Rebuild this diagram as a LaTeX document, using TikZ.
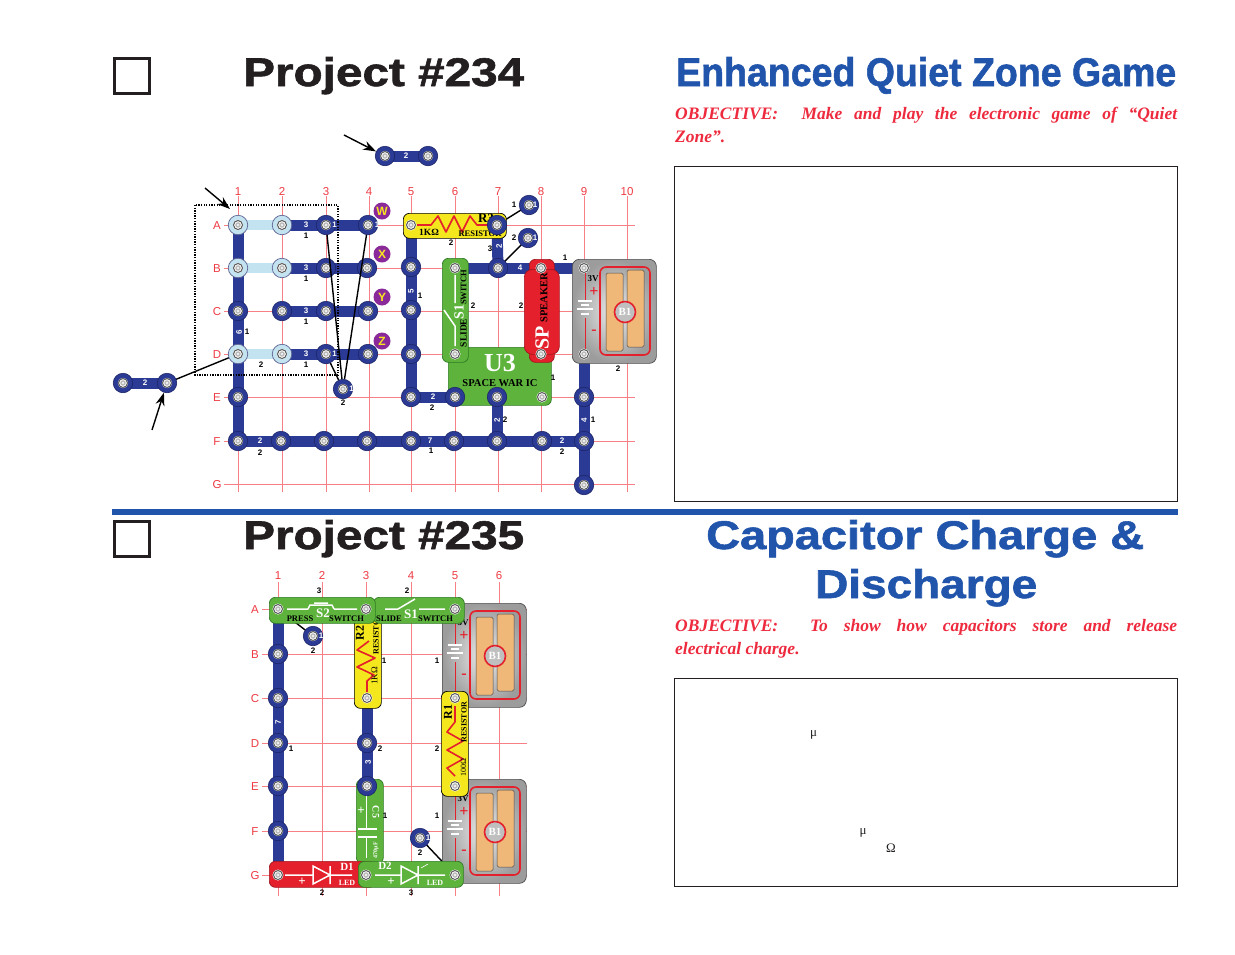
\documentclass[tikz,border=0pt]{standalone}
\usepackage{fontspec}
\usepackage{graphicx}
\setmainfont{Liberation Serif}
\newfontfamily\headfont{Liberation Sans}[BoldFeatures={FakeBold=1.4}]
\newfontfamily\numfont{Liberation Sans}
\usetikzlibrary{backgrounds,shadings,arrows.meta}
\definecolor{wireb}{HTML}{2B3A94}
\definecolor{wired}{HTML}{1C2568}
\definecolor{lightb}{HTML}{C4E3F1}
\definecolor{gridr}{HTML}{F77F86}
\definecolor{labr}{HTML}{EE3A43}
\definecolor{titleb}{HTML}{2155AB}
\definecolor{objr}{HTML}{EE2A3E}
\definecolor{compg}{HTML}{5DB33C}
\definecolor{compgd}{HTML}{2E7A22}
\definecolor{compy}{HTML}{F5E71E}
\definecolor{compr}{HTML}{E3202B}
\definecolor{cello}{HTML}{F0B878}
\definecolor{purp}{HTML}{8A2A9A}
\definecolor{yelw}{HTML}{F8E51F}
\definecolor{inkk}{HTML}{231F20}
\pgfdeclarelayer{gridlayer}
\pgfdeclarelayer{wirelayer}
\pgfsetlayers{gridlayer,wirelayer,main}
\tikzset{
 gridline/.style={draw=gridr,line width=0.9pt},
 rowlab/.style={text=labr,font=\numfont\fontsize{11.5}{11.5}\selectfont,inner sep=0pt,text height=8.2pt,text depth=0pt},
 wire/.style={draw=wireb,line width=11pt},
 wirelink/.style={draw=lightb,line width=10pt},
 thin line/.style={draw=black,line width=1.4pt},
 snapc/.style={circle,fill=wireb,draw=wired,line width=0.6pt,minimum size=19.5pt,inner sep=0pt},
 linkc/.style={circle,fill=lightb,draw=wired!70,line width=0.7pt,minimum size=19.5pt,inner sep=0pt},
 pinc/.style={circle,fill=white,draw=none,minimum size=11pt,inner sep=0pt},
 num/.style={font=\numfont\bfseries\fontsize{8}{8}\selectfont,text=black,inner sep=0pt},
 wnum/.style={font=\numfont\bfseries\fontsize{8}{8}\selectfont,text=white,inner sep=0pt},
 comp/.style={rounded corners=6pt,line width=0.7pt},
 gtext/.style={font=\bfseries\fontsize{7}{7}\selectfont,text=black,inner sep=0pt},
 wtext/.style={font=\bfseries\fontsize{14}{14}\selectfont,text=white,inner sep=0pt},
 wline/.style={draw=white,line width=1.5pt},
 zig/.style={draw=compr,line width=1.6pt,line join=round},
 arrowl/.style={draw=black,line width=1.4pt,-{Stealth[length=13pt,width=9pt]}},
 headt/.style={anchor=base west,inner sep=0pt,font=\headfont\bfseries\fontsize{40}{40}\selectfont},
 objt/.style={anchor=north west,inner sep=0pt,text width=502pt,align=justify,text=objr,font=\bfseries\itshape\fontsize{17.5}{23}\selectfont},
 checkb/.style={draw=inkk,line width=2.6pt,fill=white,minimum width=35pt,minimum height=35pt,inner sep=0pt},
 panel/.style={draw=inkk,line width=1.2pt,inner sep=0pt},
 symb/.style={font=\fontsize{13}{13}\selectfont,text=inkk,inner sep=0pt},
 badge/.style={circle,fill=purp,minimum size=17pt,inner sep=0pt,text=yelw,font=\numfont\bfseries\fontsize{12}{12}\selectfont},
 dotbox/.style={draw=black,line width=1.1pt,dash pattern=on 1.3pt off 1.3pt}
}
\newcounter{lb}
\newcommand\Num[3]{\stepcounter{lb}\node[num] (n\thelb) at (#1,#2) {#3};}
\newcommand\WNum[3]{\stepcounter{lb}\node[wnum] (n\thelb) at (#1,#2) {#3};}
\newcommand\WNumR[3]{\stepcounter{lb}\node[wnum,rotate=90] (n\thelb) at (#1,#2) {#3};}
\newcommand\RingAt[2]{\fill[white] (#1,#2) circle (5.2);\draw[gray!70!black,line width=1pt] (#1,#2) circle (4.5);\fill[gray!55] (#1,#2) circle (2.8);\fill[gray!10] (#1,#2) circle (1.4);}
\newcommand\Snap[3]{\node[snapc] (#1) at (#2,#3) {};\RingAt{#2}{#3}}
\newcommand\LSnap[3]{\node[linkc] (#1) at (#2,#3) {};\RingAt{#2}{#3}}
\newcommand\Pin[3]{\node[pinc] (#1) at (#2,#3) {};\RingAt{#2}{#3}}
\newcommand\Wire[2]{\begin{pgfonlayer}{wirelayer}\draw[wire] (#1.center) -- (#2.center);\end{pgfonlayer}}
\newcommand\LinkW[2]{\begin{pgfonlayer}{wirelayer}\draw[wirelink] (#1.center) -- (#2.center);\end{pgfonlayer}}
\newcommand\ThinW[2]{\begin{pgfonlayer}{wirelayer}\draw[thin line] (#1.center) -- (#2.center);\end{pgfonlayer}}
% battery: #1 prefix name, #2 x (left), #3 y (top)
\newcommand\Batt[3]{%
 \begin{scope}[shift={(#2,#3)}]
 \node[anchor=north west,minimum width=84pt,minimum height=104pt,inner sep=0pt,rounded corners=7pt,draw=gray!60!black,line width=0.7pt,shading=radial,inner color=gray!15,outer color=gray!78] (#1) at (0,0) {};
 \draw[compr,line width=1.6pt,rounded corners=6pt] (28,8) rectangle (78,96);
 \fill[cello,draw=gray!60!black,line width=0.5pt,rounded corners=1.5pt] (34,14) rectangle (51,92);
 \fill[cello,draw=gray!60!black,line width=0.5pt,rounded corners=1.5pt] (55,11) rectangle (72,88);
 \node[circle,fill=gray!50,draw=compr,line width=1.6pt,minimum size=21pt,inner sep=0pt,text=white,font=\bfseries\fontsize{11}{11}\selectfont] (#1c) at (53,53) {B1};
 \draw[compr,line width=1pt] (13,10) -- (13,42) (13,59) -- (13,95);
 \draw[white,line width=1.2pt] (6,42) -- (20,42) (9,46) -- (17,46) (5,50) -- (21,50) (9,55) -- (17,55);
 \node[inner sep=0pt,text=compr,font=\bfseries\fontsize{16}{16}\selectfont] (#1p) at (22,33) {+};
 \node[inner sep=0pt,text=compr,font=\bfseries\fontsize{16}{16}\selectfont] (#1m) at (22,73) {-};
 \node[inner sep=0pt,font=\bfseries\fontsize{9}{9}\selectfont] (#1v) at (21,20) {3V};
 \end{scope}}
\begin{document}
\begin{tikzpicture}[x=1pt,y=-1pt]
\useasboundingbox (0,0) rectangle (1235,954);
\begin{pgfonlayer}{gridlayer}
\fill[white] (0,0) rectangle (1235,954);
\end{pgfonlayer}
% ---------- page furniture ----------
\node[checkb,anchor=north west] (chk1) at (113.3,57.3) {};
\node[checkb,anchor=north west] (chk2) at (113.3,520.3) {};
\node[headt,text=inkk] (title1) at (243,86) {\resizebox{281pt}{\height}{Project \#234}};
\node[headt,text=inkk] (title2) at (243,549) {\resizebox{281pt}{\height}{Project \#235}};
\node[headt,text=titleb] (head1) at (676,86) {\resizebox{500pt}{\height}{Enhanced Quiet Zone Game}};
\node[headt,text=titleb] (head2a) at (706,549) {\resizebox{438pt}{\height}{Capacitor Charge \&}};
\node[headt,text=titleb] (head2b) at (815,598) {\resizebox{222pt}{\height}{Discharge}};
\node[objt] (obj1) at (675,106.5) {OBJECTIVE:\ \ Make and play the electronic game of “Quiet\linebreak Zone”.};
\node[objt] (obj2) at (675,619) {OBJECTIVE:\ \ To show how capacitors store and release\linebreak electrical charge.};
\node[panel,anchor=north west,minimum width=503pt,minimum height=335pt] (panel1) at (674,166) {};
\node[panel,anchor=north west,minimum width=503pt,minimum height=208pt] (panel2) at (674,678) {};
\fill[titleb] (112,509) rectangle (1178,515);
\node[symb] (mu1) at (813.5,735) {μ};
\node[symb] (mu2) at (863,833) {μ};
\node[symb] (om1) at (891,848) {Ω};
% ---------- top grid ----------
\begin{pgfonlayer}{gridlayer}
\foreach \xx in {238,282,326,369,411,455,498,541,584,627} \draw[gridline] (\xx,196) -- (\xx,492);
\foreach \yy in {225,268,311,354,397,441,484} \draw[gridline] (224,\yy) -- (635,\yy);
\end{pgfonlayer}
\foreach \xx/\ll in {238/1,282/2,326/3,369/4,411/5,455/6,498/7,541/8,584/9,627/10}
  \node[rowlab] (tc\ll) at (\xx,191) {\ll};
\foreach \yy/\ll in {225/A,268/B,311/C,354/D,397/E,441/F,484/G}
  \node[rowlab] (tr\ll) at (217,\yy) {\ll};
% components, top
\node[anchor=north west,comp,fill=compy,draw=black,minimum width=103pt,minimum height=25pt,inner sep=0pt] (R3box) at (403,213) {};
\draw[zig] (417,225) -- (431,225) -- (438,216) -- (446,232) -- (454,216) -- (462,232) -- (470,216) -- (477,225) -- (490,225);
\node[font=\bfseries\fontsize{13}{13}\selectfont,inner sep=0pt] (R3t) at (486,218) {R3};
\node[gtext,font=\fontsize{9.5}{9.5}\selectfont\bfseries] (R3k) at (429,232.5) {1KΩ};
\node[gtext,font=\fontsize{8.5}{8.5}\selectfont\bfseries] (R3r) at (480,234) {RESISTOR};
\node[anchor=north west,comp,fill=compg,draw=compgd,minimum width=103pt,minimum height=58pt,inner sep=0pt] (U3box) at (448,347) {};
\node[inner sep=0pt,text=white,font=\bfseries\fontsize{26}{26}\selectfont] (U3t) at (500,363) {U3};
\node[gtext,font=\bfseries\fontsize{10.5}{10.5}\selectfont] (U3s) at (500,383.5) {SPACE WAR IC};
\node[anchor=north west,comp,fill=compg,draw=compgd,minimum width=26pt,minimum height=104pt,inner sep=0pt] (S1box) at (442,258) {};
\draw[wline] (455,275) -- (455,303) (455,346) -- (455,326) -- (444,310);
\node[wtext,rotate=90] (S1t) at (459,312) {S1};
\node[gtext,rotate=90,font=\bfseries\fontsize{9.5}{9.5}\selectfont] (S1a) at (463.5,333) {SLIDE};
\node[gtext,rotate=90,font=\bfseries\fontsize{8.5}{8.5}\selectfont] (S1b) at (463.5,287.5) {SWITCH};
\node[anchor=north west,comp,fill=compr,draw=compr!70!black,minimum width=25pt,minimum height=103pt,inner sep=0pt] (SPback) at (529,259) {};
\node[anchor=north west,comp,fill=compr,draw=compr!70!black,rounded corners=8pt,minimum width=35pt,minimum height=85pt,inner sep=0pt] (SPbox) at (524,269) {};
\node[rotate=90,inner sep=0pt,text=white,font=\bfseries\fontsize{20}{20}\selectfont] (SPt) at (542,338) {SP};
\node[rotate=90,gtext,font=\bfseries\fontsize{10.5}{10.5}\selectfont] (SPs) at (544,298) {SPEAKER};
\Batt{B1a}{572}{259}
% snaps, top
\LSnap{A1}{238}{225} \LSnap{A2}{282}{225} \Snap{A3}{326}{225} \Snap{A4}{368}{225}
\LSnap{B1}{238}{268} \LSnap{B2}{282}{268} \Snap{B3}{326}{268} \Snap{B4}{367}{268}
\Snap{C1}{238}{311} \Snap{C2}{282}{311} \Snap{C3}{326}{311} \Snap{C4}{368}{311}
\LSnap{D1}{238}{354} \LSnap{D2}{282}{354} \Snap{D3}{326}{354} \Snap{D4}{368}{354}
\Snap{E1}{238}{397}
\Snap{F1}{238}{441} \Snap{F2}{281}{441} \Snap{F3}{324}{441} \Snap{F4}{367}{441}
\Snap{F5}{411}{441} \Snap{F6}{454}{441} \Snap{F7}{497}{441} \Snap{F8}{542}{441} \Snap{F9}{584}{441}
\Pin{A5}{411}{225} \Snap{A7}{497}{225}
\Snap{B5}{411}{267} \Snap{C5}{411}{310} \Snap{D5}{411}{354} \Snap{E5}{411}{397}
\Snap{E6}{455}{397} \Snap{E7}{497}{397} \Pin{E8}{542}{397}
\Pin{B6}{455}{268} \Pin{D6}{455}{354} \Snap{B7}{498}{268} \Pin{B8}{541}{268} \Pin{D8}{541}{354}
\Pin{B9}{584}{268} \Pin{D9}{584}{354} \Snap{E9}{584}{397} \Snap{G9}{584}{485}
\Snap{J1}{529}{205} \Snap{J2}{528}{238}
\Snap{T1}{385}{156} \Snap{T2}{428}{156}
\Snap{L1}{123}{383} \Snap{L2}{167}{383}
\Snap{P}{343}{389}
% wires, top
\Wire{A1}{F1}\Wire{A2}{A4}\Wire{B2}{B4}\Wire{C2}{C4}\Wire{D2}{D4}\Wire{F1}{F9}
\Wire{A5}{E5}\Wire{E5}{E6}\Wire{E7}{F7}\Wire{A7}{B7}\Wire{B6}{B9}\Wire{D9}{G9}
\Wire{T1}{T2}\Wire{L1}{L2}
\LinkW{A1}{A2}\LinkW{B1}{B2}\LinkW{D1}{D2}
\ThinW{A7}{J1}\ThinW{B7}{J2}\ThinW{L2}{D1}
\draw[thin line] (P) -- (A3);
\draw[thin line] (P) -- (A4);
\draw[thin line] (P) -- (D3);
\draw[dotbox] (195,205) rectangle (338,375);
\coordinate (aT) at (344,135); \coordinate (aA) at (205,188); \coordinate (aL) at (152,430);
\draw[arrowl] (aT) -- (T1);
\draw[arrowl] (aA) -- (230,209);
\draw[arrowl] (aL) -- (L2);
\node[badge] (bW) at (382,211) {W};
\node[badge] (bX) at (382,254) {X};
\node[badge] (bY) at (382,297) {Y};
\node[badge] (bZ) at (382,341) {Z};
% numbers, top
\WNum{306}{225}{3}\Num{306}{236}{1}\WNum{306}{268}{3}\Num{306}{279}{1}
\WNum{306}{311}{3}\Num{306}{322}{1}\WNum{306}{354}{3}\Num{306}{365}{1}\Num{261}{365}{2}
\WNumR{239}{332}{6}\Num{247}{332}{1}
\WNum{334.5}{225}{1}\WNum{377}{225}{1}\WNum{334.5}{354}{1}\WNum{351.5}{389}{1}\Num{343}{403}{2}
\WNum{145}{383}{2}\WNum{406}{156}{2}
\WNum{260}{441}{2}\Num{260}{453}{2}\WNum{430}{441}{7}\Num{431}{451}{1}
\WNum{433}{397}{2}\Num{432}{408}{2}\WNumR{497}{420}{2}\Num{505}{420}{2}
\WNum{562}{441}{2}\Num{562}{452}{2}\WNumR{584}{420}{4}\Num{593}{420}{1}
\WNumR{411}{291}{5}\Num{420}{296}{1}\Num{451}{243}{2}\Num{490}{249}{3}\WNumR{499}{246}{2}
\Num{514}{205}{1}\Num{514}{238}{2}\WNum{535}{205}{1}\WNum{535}{238}{1}
\WNum{520}{268}{4}\Num{565}{258}{1}\Num{473}{306}{2}\Num{521}{306}{2}\Num{553}{378}{1}\Num{618}{369}{2}
% ---------- bottom grid ----------
\begin{pgfonlayer}{gridlayer}
\foreach \xx in {278,322,366,411,455,499} \draw[gridline] (\xx,582) -- (\xx,896);
\foreach \yy in {609,654,698,743,786,831,875} \draw[gridline] (262,\yy) -- (527,\yy);
\end{pgfonlayer}
\foreach \xx/\ll in {278/1,322/2,366/3,411/4,455/5,499/6}
  \node[rowlab] (bc\ll) at (\xx,575) {\ll};
\foreach \yy/\ll in {609/A,654/B,698/C,743/D,786/E,831/F,875/G}
  \node[rowlab] (br\ll) at (255,\yy) {\ll};
\Batt{B1b}{442}{603}
\Batt{B1c}{442}{779}
% capacitor
\node[anchor=north west,comp,fill=compg,draw=compgd,minimum width=27pt,minimum height=84pt,inner sep=0pt] (Cbox) at (356,779) {};
\draw[wline] (366.5,795) -- (366.5,829) (358,829) -- (377,829) (358,837) -- (377,837) (366.5,837) -- (366.5,858);
\node[inner sep=0pt,text=white,font=\bfseries\fontsize{13}{13}\selectfont] (Cplus) at (361,811) {+};
\node[inner sep=0pt,text=white,rotate=-90,font=\bfseries\fontsize{10}{10}\selectfont] (Ct) at (376,812) {C5};
\node[inner sep=0pt,text=white,rotate=90,font=\bfseries\fontsize{6}{6}\selectfont] (Cv) at (376,850) {470μF};
% R2
\node[anchor=north west,comp,fill=compy,draw=black,minimum width=27pt,minimum height=90pt,inner sep=0pt] (R2box) at (354,618) {};
\draw[zig] (369,641) -- (357,650) -- (375,658) -- (357,667) -- (374,675) -- (367,681) -- (367,692);
\node[rotate=90,font=\bfseries\fontsize{12}{12}\selectfont,inner sep=0pt] (R2t) at (360,633) {R2};
\node[rotate=90,gtext,font=\bfseries\fontsize{8}{8}\selectfont] (R2r) at (376,634) {RESISTOR};
\node[rotate=90,gtext,font=\fontsize{9}{9}\selectfont] (R2k) at (374.5,676) {1KΩ};
% R1
\node[anchor=north west,comp,fill=compy,draw=black,minimum width=27pt,minimum height=105pt,inner sep=0pt] (R1box) at (441,691) {};
\draw[zig] (455,706) -- (455,722) -- (447,732) -- (463,741) -- (447,750) -- (463,759) -- (447,768) -- (455,776);
\node[rotate=90,font=\bfseries\fontsize{12}{12}\selectfont,inner sep=0pt] (R1t) at (448,712) {R1};
\node[rotate=90,gtext,font=\bfseries\fontsize{8}{8}\selectfont] (R1r) at (464,722) {RESISTOR};
\node[rotate=90,gtext,font=\fontsize{8}{8}\selectfont] (R1k) at (463.5,768) {100Ω};
% S1, S2
\node[anchor=north west,comp,fill=compg,draw=compgd,minimum width=91pt,minimum height=26pt,inner sep=0pt] (S1bbox) at (373,597) {};
\draw[wline] (385,609) -- (398,609) -- (415,599) (419,609) -- (445,609);
\node[wtext,font=\bfseries\fontsize{13}{13}\selectfont] (S1bt) at (411,614) {S1};
\node[gtext,font=\bfseries\fontsize{8.5}{8.5}\selectfont] (S1bs) at (389,619) {SLIDE};
\node[gtext,font=\bfseries\fontsize{8.5}{8.5}\selectfont] (S1bw) at (435.5,619) {SWITCH};
\node[anchor=north west,comp,fill=compg,draw=compgd,minimum width=106pt,minimum height=26pt,inner sep=0pt] (S2box) at (269,597) {};
\draw[wline] (287,609) -- (308,609) (308,609) -- (310,605) -- (332,605) -- (334,609) (334,609) -- (357,609) (314,603) -- (328,603);
\node[wtext,font=\bfseries\fontsize{13}{13}\selectfont] (S2t) at (323,613) {S2};
\node[gtext,font=\bfseries\fontsize{8.5}{8.5}\selectfont] (S2p) at (300,619) {PRESS};
\node[gtext,font=\bfseries\fontsize{8.5}{8.5}\selectfont] (S2w) at (346.5,619) {SWITCH};
% D1, D2
\node[anchor=north west,comp,fill=compr,draw=compr!70!black,minimum width=106pt,minimum height=26pt,inner sep=0pt] (D1box) at (269,861) {};
\draw[wline] (285,875) -- (313,875) (313,866) -- (313,884) -- (330,875) -- cycle (330,866) -- (330,884) (330,875) -- (352,875);
\node[inner sep=0pt,text=white,font=\bfseries\fontsize{13}{13}\selectfont] (D1p) at (302,882) {+};
\node[inner sep=0pt,text=white,font=\bfseries\fontsize{11}{11}\selectfont] (D1t) at (347,867) {D1};
\node[inner sep=0pt,text=white,font=\bfseries\fontsize{8}{8}\selectfont] (D1l) at (347,883) {LED};
\node[anchor=north west,comp,fill=compg,draw=compgd,minimum width=105pt,minimum height=26pt,inner sep=0pt] (D2box) at (358,861) {};
\draw[wline] (375,875) -- (401,875) (401,866) -- (401,884) -- (418,875) -- cycle (418,866) -- (418,884) (418,875) -- (445,875);
\draw[draw=white,line width=0.6pt] (421,868) -- (428,864);
\node[inner sep=0pt,text=white,font=\bfseries\fontsize{13}{13}\selectfont] (D2p) at (391,882) {+};
\node[inner sep=0pt,text=white,font=\bfseries\fontsize{11}{11}\selectfont] (D2t) at (385,866) {D2};
\node[inner sep=0pt,text=white,font=\bfseries\fontsize{8}{8}\selectfont] (D2l) at (435,883) {LED};
% snaps, bottom
\Pin{a1}{278}{609}\Pin{a3}{366}{609}\Pin{a5}{455}{609}
\Snap{b1}{278}{654}\Snap{c1}{278}{698}\Snap{d1}{278}{743}\Snap{e1}{278}{786}\Snap{f1}{278}{831}
\Pin{g1}{278}{875}\Pin{g3}{366}{875}\Pin{g5}{455}{875}
\Pin{c3}{367}{698}\Snap{d3}{367}{743}\Snap{e3}{367}{786}
\Pin{c5}{455}{698}\Pin{e5}{455}{786}
\Snap{sa}{313}{636}\Snap{sb}{420}{838}
\Wire{a1}{g1}\Wire{c3}{e3}
\ThinW{sa}{a1}\ThinW{sb}{g5}
% numbers, bottom
\Num{319}{591}{3}\Num{407}{591}{2}\Num{313}{651}{2}\WNum{321}{636}{1}\Num{384}{661}{1}\Num{437}{661}{1}
\WNumR{278}{722}{7}\Num{291}{749}{1}\Num{380}{749}{2}\Num{437}{749}{2}\WNumR{368}{762}{3}
\Num{385}{816}{1}\Num{437}{816}{1}\Num{420}{853}{2}\WNum{428}{838}{1}\Num{322}{893}{2}\Num{411}{893}{3}
\end{tikzpicture}
\end{document}
